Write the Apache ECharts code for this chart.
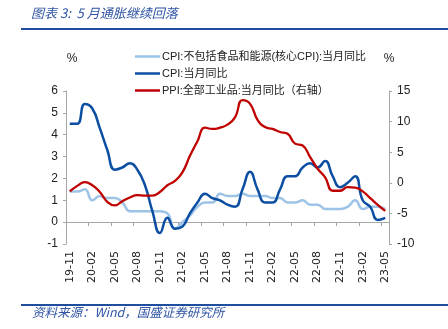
<!DOCTYPE html>
<html><head><meta charset="utf-8">
<script src="https://cdn.jsdelivr.net/npm/echarts@6/dist/echarts.min.js"></script>
<style>html,body{margin:0;padding:0;background:#fff}#c{width:448px;height:329px}</style>
</head><body><div id="c"></div>
<script>
var months = ['19-11','19-12','20-01','20-02','20-03','20-04','20-05','20-06','20-07','20-08','20-09','20-10','20-11','20-12',
'21-01','21-02','21-03','21-04','21-05','21-06','21-07','21-08','21-09','21-10','21-11','21-12',
'22-01','22-02','22-03','22-04','22-05','22-06','22-07','22-08','22-09','22-10','22-11','22-12',
'23-01','23-02','23-03','23-04','23-05'];
var coreCPI = [1.4,1.4,1.5,1.0,1.2,1.1,1.1,0.9,0.5,0.5,0.5,0.5,0.5,0.4,
-0.3,0.0,0.3,0.7,0.9,0.9,1.3,1.2,1.2,1.3,1.2,1.2,
1.2,1.1,1.1,0.9,0.9,1.0,0.8,0.8,0.6,0.6,0.6,0.7,
1.0,0.6,0.7,0.7,0.6];
var cpi = [4.5,4.5,5.4,5.2,4.3,3.3,2.4,2.5,2.7,2.4,1.7,0.5,-0.5,0.2,
-0.3,-0.2,0.4,0.9,1.3,1.1,1.0,0.8,0.7,1.5,2.3,1.5,
0.9,0.9,1.5,2.1,2.1,2.5,2.7,2.5,2.8,2.1,1.6,1.8,
2.1,1.0,0.7,0.1,0.2];
var ppi = [-1.4,-0.5,0.1,-0.4,-1.5,-3.1,-3.7,-3.0,-2.4,-2.0,-2.1,-2.1,-1.5,-0.4,
0.3,1.7,4.4,6.8,9.0,8.8,9.0,9.5,10.7,13.5,12.9,10.3,
9.1,8.8,8.3,8.0,6.4,6.1,4.2,2.3,0.9,-1.3,-1.3,-0.7,
-0.8,-1.4,-2.5,-3.6,-4.6];
var names = ['CPI:不包括食品和能源(核心CPI):当月同比','CPI:当月同比','PPI:全部工业品:当月同比（右轴）'];

var font = '"Liberation Sans","Noto Sans CJK SC",sans-serif';
var chart = echarts.init(document.getElementById('c'), null, {renderer:'canvas'});
chart.setOption({
  animation:false,
  textStyle:{fontFamily:font},
  grid:{left:66,right:59,top:91,bottom:85,containLabel:false},
  graphic:[
    {type:'text',left:31,top:7,style:{text:'图表 3:  5 月通胀继续回落',fill:'#2F55A4',font:'italic 13px "Noto Sans CJK SC"'}},
    {type:'line',shape:{x1:21,y1:29,x2:448,y2:29},style:{stroke:'#1F4E9F',lineWidth:2}},
    {type:'line',shape:{x1:21,y1:305,x2:448,y2:305},style:{stroke:'#1F4E9F',lineWidth:2}},
    {type:'text',left:32,top:306,style:{text:'资料来源：Wind，国盛证券研究所',fill:'#2F55A4',font:'italic 12.5px "Noto Sans CJK SC"'}}
  ],
  legend:{
    orient:'vertical',left:130,top:46,itemWidth:25,itemHeight:2.5,itemGap:6,icon:'rect',
    data:names,
    textStyle:{fontSize:11,color:'#222',fontFamily:font,padding:[0,0,0,-3]}
  },
  xAxis:[
    {type:'category',data:months,boundaryGap:true,
     axisLine:{onZero:true,onZeroAxisIndex:0,lineStyle:{color:'#a6a6a6',width:1}},
     axisTick:{show:true,interval:2,length:4,lineStyle:{color:'#a6a6a6'}},
     axisLabel:{show:false},splitLine:{show:false}},
    {type:'category',data:months,boundaryGap:true,position:'bottom',
     axisLine:{show:false,onZero:false},axisTick:{show:false},
     axisLabel:{interval:2,rotate:90,fontSize:11,color:'#222',margin:7,fontFamily:'"DejaVu Sans"'},splitLine:{show:false}}
  ],
  yAxis:[
    {type:'value',min:-1,max:6,interval:1,position:'left',
     name:'%',nameLocation:'end',nameGap:26,nameTextStyle:{fontSize:12,color:'#222',padding:[0,0,0,12]},
     axisLine:{show:true,lineStyle:{color:'#a6a6a6'}},
     axisTick:{show:true,length:3,lineStyle:{color:'#a6a6a6'}},
     axisLabel:{fontSize:12,color:'#222',margin:8},splitLine:{show:false}},
    {type:'value',min:-10,max:15,interval:5,position:'right',
     name:'%',nameLocation:'end',nameGap:26,nameTextStyle:{fontSize:12,color:'#222'},
     axisLine:{show:true,lineStyle:{color:'#a6a6a6'}},
     axisTick:{show:true,length:3,lineStyle:{color:'#a6a6a6'}},
     axisLabel:{fontSize:12,color:'#222',margin:8},splitLine:{show:false}}
  ],
  series:[
    {name:names[0],type:'line',data:coreCPI,xAxisIndex:0,yAxisIndex:0,smooth:0.5,symbol:'none',
     lineStyle:{color:'#9DC3E6',width:2.5},itemStyle:{color:'#9DC3E6'}},
    {name:names[1],type:'line',data:cpi,xAxisIndex:0,yAxisIndex:0,smooth:0.5,symbol:'none',
     lineStyle:{color:'#0B4EA2',width:2.5},itemStyle:{color:'#0B4EA2'}},
    {name:names[2],type:'line',data:ppi,xAxisIndex:0,yAxisIndex:1,smooth:0.5,symbol:'none',
     lineStyle:{color:'#C00000',width:2.3},itemStyle:{color:'#C00000'}}
  ]
});
</script></body></html>
